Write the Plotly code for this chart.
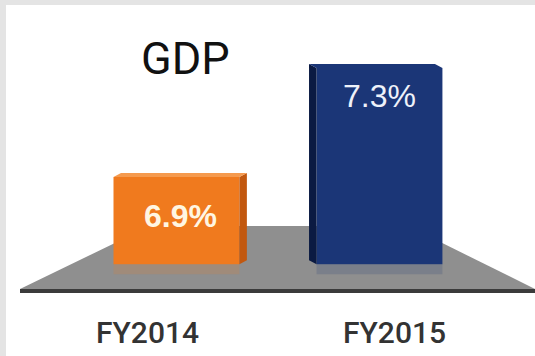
import plotly.graph_objects as go

# GDP growth by fiscal year (%)
categories = ["FY2014", "FY2015"]
growth = [6.9, 7.3]
value_labels = ["6.9%", "7.3%"]

# styling per bar
front_colors = ["#f07a1e", "#1b3677"]
side_colors = ["#c2580f", "#0b1a42"]
top_colors = ["#f59a4e", "#1b3677"]
label_colors = ["#fff6e2", "#eef2fa"]
label_weights = ["bold", "normal"]
side_dir = [1, -1]          # orange shows its right side, navy its left side
label_shift = [(4, -39), (0, -28)]
cat_shift = [-29, 15]

W, H = 535, 356
BASE = 6.58                  # value where the bars meet the floor
Y_RANGE = [6.243, 7.5495]
X_RANGE = [-0.869, 1.766]
BAR_W = 0.62

px_x = (X_RANGE[1] - X_RANGE[0]) / W
px_y = (Y_RANGE[1] - Y_RANGE[0]) / H


def px(x, y):
    return x / W, 1 - y / H


fig = go.Figure()
fig.add_trace(go.Bar(
    x=categories,
    y=[v - BASE for v in growth],
    base=BASE,
    width=BAR_W,
    marker=dict(color=front_colors, line=dict(width=0)),
    hoverinfo="skip",
))

shapes = []

# light frame on the top and left
shapes.append(dict(type="rect", xref="paper", yref="paper", x0=0, x1=1,
                   y0=1 - 5 / H, y1=1, fillcolor="#e4e4e4", line_width=0,
                   layer="below"))
shapes.append(dict(type="rect", xref="paper", yref="paper", x0=0, x1=6 / W,
                   y0=0, y1=1, fillcolor="#e4e4e4", line_width=0,
                   layer="below"))

# grey floor under the bars
floor_pts = [px(20, 289), px(150, 226), px(408, 226), px(535, 289)]
path = "M " + " L ".join(f"{a},{b}" for a, b in floor_pts) + " Z"
shapes.append(dict(type="path", xref="paper", yref="paper", path=path,
                   fillcolor="#8f8f8f", line_width=0, layer="below"))
# dark base line
shapes.append(dict(type="rect", xref="paper", yref="paper",
                   x0=20 / W, x1=1, y0=1 - 293 / H, y1=1 - 289 / H,
                   fillcolor="#3b3b3b", line_width=0, layer="below"))

# faint reflections of the bars on the floor
for i, v in enumerate(growth):
    shapes.append(dict(type="rect", xref="x", yref="y",
                       x0=i - BAR_W / 2, x1=i + BAR_W / 2,
                       y0=BASE - 10 * px_y, y1=BASE,
                       fillcolor=front_colors[i], opacity=0.18,
                       line_width=0, layer="below"))

# 3D side and top faces of each bar
for i, v in enumerate(growth):
    d = side_dir[i]
    dx = 7.5 * px_x * d
    dy = 4 * px_y
    edge = i + d * BAR_W / 2
    side = (f"M {edge},{BASE} L {edge},{v} L {edge + dx},{v + dy} "
            f"L {edge + dx},{BASE + dy} Z")
    shapes.append(dict(type="path", xref="x", yref="y", path=side,
                       fillcolor=side_colors[i], line_width=0))
    xl, xr = i - BAR_W / 2, i + BAR_W / 2
    top = (f"M {xl},{v} L {xr},{v} L {xr + dx},{v + dy} "
           f"L {xl + dx},{v + dy} Z")
    shapes.append(dict(type="path", xref="x", yref="y", path=top,
                       fillcolor=top_colors[i], line_width=0))

annotations = []
for i, v in enumerate(growth):
    annotations.append(dict(
        x=categories[i], y=v, xref="x", yref="y",
        text=value_labels[i], showarrow=False,
        xshift=label_shift[i][0], yshift=label_shift[i][1],
        yanchor="middle",
        font=dict(family="Liberation Sans", size=32, color=label_colors[i],
                  weight=label_weights[i]),
    ))
    annotations.append(dict(
        x=categories[i], y=1 - 332 / H, xref="x", yref="paper",
        text=categories[i], showarrow=False, xshift=cat_shift[i],
        yanchor="middle",
        font=dict(family="Roboto", size=30, color="#333333", weight=500),
    ))

annotations.append(dict(
    x=185 / W, y=1 - 58 / H, xref="paper", yref="paper",
    text="GDP", showarrow=False, yanchor="middle",
    font=dict(family="Roboto", size=45, color="#111111"),
))

fig.update_layout(
    width=W, height=H,
    margin=dict(l=0, r=0, t=0, b=0),
    paper_bgcolor="white", plot_bgcolor="rgba(0,0,0,0)",
    showlegend=False,
    xaxis=dict(type="category", range=X_RANGE, visible=False, fixedrange=True),
    yaxis=dict(range=Y_RANGE, visible=False, fixedrange=True),
    shapes=shapes,
    annotations=annotations,
)

fig.write_html("out.html", config={"displayModeBar": False})
